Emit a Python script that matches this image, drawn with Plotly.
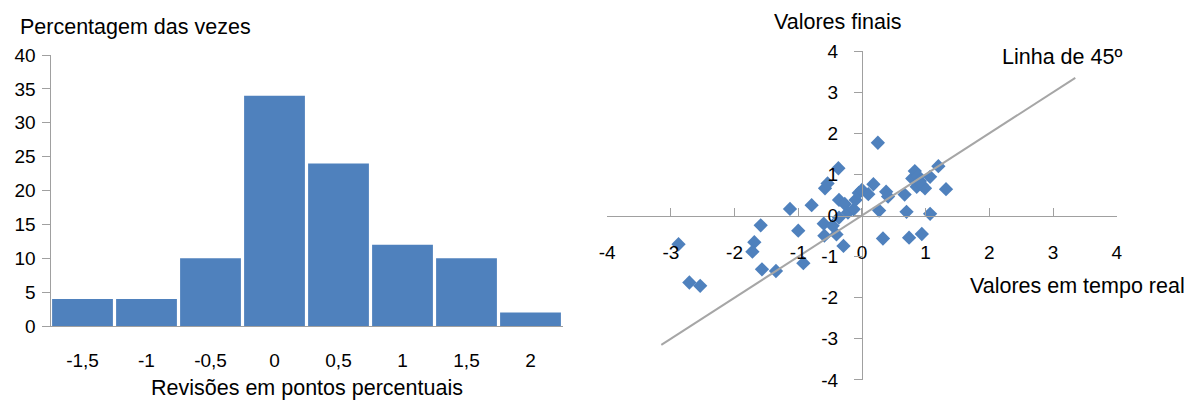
import plotly.graph_objects as go

# ---- Left chart: histogram of revisions ----
bins = ["-1,5", "-1", "-0,5", "0", "0,5", "1", "1,5", "2"]
pct = [4, 4, 10, 34, 24, 12, 10, 2]
hist_yticks = [0, 5, 10, 15, 20, 25, 30, 35, 40]

# ---- Right chart: real-time vs final values ----
real_time = [-2.88, -2.71, -2.54, -1.59, -1.69, -1.72, -1.57, -1.35, -1.13, -1.00,
             -0.92, -0.79, -0.60, -0.59, -0.40, -0.29, -0.58, -0.54, -0.37, -0.36,
             -0.27, -0.46, -0.36, -0.22, -0.13, -0.10, -0.05, 0.00, 0.10, 0.18,
             0.25, 0.27, 0.33, 0.38, 0.41, 0.67, 0.70, 0.74, 0.94, 1.07,
             0.79, 0.83, 0.88, 0.86, 0.94, 0.99, 1.07, 1.20, 1.32, 0.91]
final = [-0.70, -1.63, -1.71, -0.24, -0.65, -0.88, -1.31, -1.35, 0.16, -0.37,
         -1.16, 0.25, -0.20, -0.49, -0.46, -0.74, 0.66, 0.78, 1.15, 0.38,
         0.28, -0.25, -0.05, 0.07, 0.15, 0.38, 0.55, 0.62, 0.52, 0.76,
         1.77, 0.12, -0.56, 0.58, 0.46, 0.51, 0.09, -0.54, -0.45, 0.04,
         0.90, 1.08, 0.96, 0.70, 0.74, 0.66, 0.94, 1.20, 0.64, 0.84]
line45 = [-3.15, 3.35]
scatter_ticks = [-4, -3, -2, -1, 0, 1, 2, 3, 4]
scatter_ticktext = ["-4", "-3", "-2", "-1", "0", "1", "2", "3", "4"]

BLUE = "#4F81BD"
AXIS = "#A0A0A0"
FONT = "Liberation Sans, Arial, sans-serif"
W, H = 1192, 403

fig = go.Figure()
fig.add_trace(go.Bar(x=bins, y=pct, marker=dict(color=BLUE, line=dict(width=0)),
                     xaxis="x", yaxis="y", showlegend=False))
fig.add_trace(go.Scatter(x=real_time, y=final, mode="markers",
                         marker=dict(symbol="diamond", size=11, color=BLUE),
                         xaxis="x2", yaxis="y2", showlegend=False))
fig.add_trace(go.Scatter(x=line45, y=line45, mode="lines",
                         line=dict(color="#A6A6A6", width=2),
                         xaxis="x2", yaxis="y2", showlegend=False))

# pixel-based domains
lx0, lx1 = 50.5 / W, 562.5 / W
ly0, ly1 = (H - 326) / H, (H - 55) / H
rx0, rx1 = 607.2 / W, 1116.7 / W
ry0, ry1 = (H - 379.9) / H, (H - 51.1) / H

tickfont = dict(family=FONT, size=19, color="#000000")

fig.update_layout(
    width=W, height=H, margin=dict(l=0, r=0, t=0, b=0, autoexpand=False),
    paper_bgcolor="white", plot_bgcolor="white",
    bargap=0.05,
    font=dict(family=FONT, color="#000000"),
    xaxis=dict(domain=[lx0, lx1], anchor="y", type="category", showgrid=False,
               zeroline=False, showline=True, linecolor=AXIS, linewidth=1,
               ticks="", tickfont=tickfont, ticklabelstandoff=17, automargin=False),
    yaxis=dict(domain=[ly0, ly1], anchor="x", range=[0, 40], tickvals=hist_yticks,
               showgrid=False, zeroline=False, showline=True, linecolor=AXIS,
               linewidth=1, ticks="outside", ticklen=8, tickcolor=AXIS,
               tickfont=tickfont, ticklabelstandoff=2, automargin=False),
    xaxis2=dict(domain=[rx0, rx1], anchor="free", position=(ry0 + ry1) / 2,
                range=[-4, 4], tickvals=scatter_ticks, ticktext=scatter_ticktext,
                showgrid=False, zeroline=False,
                showline=True, linecolor=AXIS, linewidth=1, ticks="inside", ticklen=8,
                tickcolor=AXIS, tickfont=tickfont, ticklabelstandoff=20, automargin=False),
    yaxis2=dict(domain=[ry0, ry1], anchor="free", position=(rx0 + rx1) / 2,
                range=[-4, 4], tickvals=scatter_ticks, ticktext=scatter_ticktext,
                showgrid=False, zeroline=False,
                showline=True, linecolor=AXIS, linewidth=1, ticks="outside", ticklen=8,
                tickcolor=AXIS, tickfont=tickfont, ticklabelstandoff=12, automargin=False),
)

titlefont = dict(family=FONT, size=21.5, color="#000000")
fig.add_annotation(text="Percentagem das vezes", xref="paper", yref="paper",
                   x=18 / W, y=(H - 27) / H, xanchor="left", yanchor="middle",
                   showarrow=False, font=titlefont)
fig.add_annotation(text="Revisões em pontos percentuais", xref="paper", yref="paper",
                   x=(lx0 + lx1) / 2, y=(H - 388) / H, xanchor="center", yanchor="middle",
                   showarrow=False, font=titlefont)
fig.add_annotation(text="Valores finais", xref="paper", yref="paper",
                   x=837 / W, y=(H - 22) / H, xanchor="center", yanchor="middle",
                   showarrow=False, font=titlefont)
fig.add_annotation(text="Linha de 45º", xref="paper", yref="paper",
                   x=1000 / W, y=(H - 57) / H, xanchor="left", yanchor="middle",
                   showarrow=False, font=titlefont)
fig.add_annotation(text="Valores em tempo real", xref="paper", yref="paper",
                   x=1187 / W, y=(H - 286) / H, xanchor="right", yanchor="middle",
                   showarrow=False, font=titlefont)

fig.write_html(
    "out.html",
    config={"displayModeBar": False},
    post_script="document.body.style.margin='0';document.body.style.overflow='hidden';",
)
